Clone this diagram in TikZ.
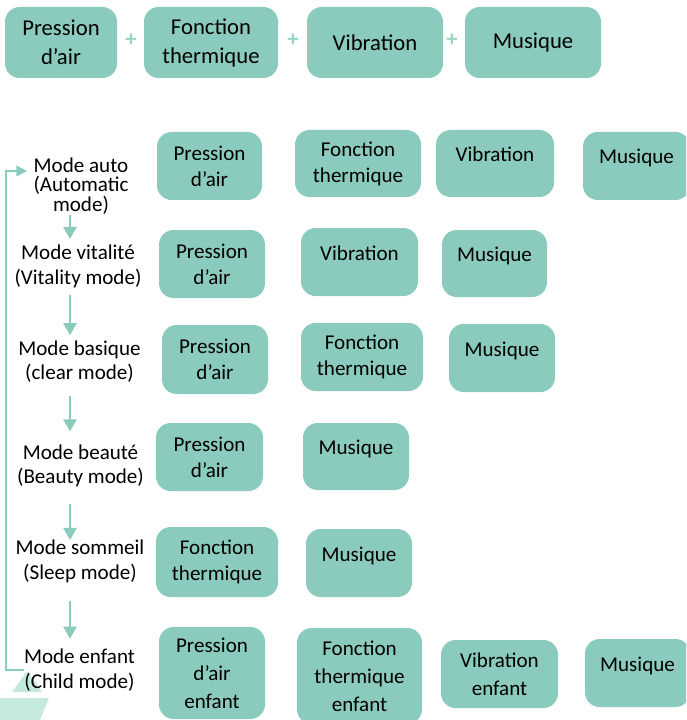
\documentclass[tikz,border=0pt]{standalone}
\usepackage{fontspec}
\setmainfont{Carlito}
\usetikzlibrary{arrows.meta}
\definecolor{teal1}{RGB}{138,203,189}
\definecolor{teal2}{RGB}{150,212,198}
\definecolor{paleteal}{RGB}{196,234,224}
\begin{document}
\begin{tikzpicture}[x=0.75pt,y=-0.75pt,
  box/.style={fill=teal1, rounded corners=11pt, inner sep=0pt, align=center, font=\fontsize{15.8}{19.5}\selectfont},
  bx/.style n args={4}{box, minimum width={(#3-#1)*0.75pt}, minimum height={(#4-#2)*0.75pt}, at={({(#1+#3)/2},{(#2+#4)/2})}},
  hi/.style={text height=11pt, text depth=14pt},
  big/.style={font=\fontsize{17}{21.75}\selectfont},
  mode/.style={align=center, inner sep=0pt, font=\fontsize{15.8}{18.5}\selectfont},
  plus/.style={text=teal2, font=\fontsize{17}{20}\selectfont\bfseries, inner sep=0pt},
  arr/.style={draw=teal1, line width=1.1pt, -{Triangle[width=10pt,length=9pt]}},
  fbk/.style={draw=teal1, line width=1.1pt, -{Triangle[width=8pt,length=8pt]}},
]
\useasboundingbox (0,0) rectangle (686,720);
\clip (0,0) rectangle (686,720);

% top row
\node[bx={5}{7}{117}{78}, big] (t1) {Pression\\d’air};
\node[bx={144}{7}{278}{78}, big] (t2) {Fonction\\thermique};
\node[bx={307}{7}{443}{78}, big] (t3) {Vibration};
\node[bx={465}{7}{601}{78}, big] (t4) {Musique};
\node[plus] (p1) at (131,40) {+};
\node[plus] (p2) at (293,40) {+};
\node[plus] (p3) at (452,40) {+};

% decoration bottom left
\fill[paleteal] (12,692) -- (27,671) -- (42,692) -- cycle;
\fill[paleteal] (0,698) -- (49,698) -- (40,720) -- (0,720) -- cycle;

% mode labels
\node[mode] (m1) at (81,186) {Mode auto\\[-4pt](Automatic\\[-4pt]mode)};
\node[mode] (m2) at (78,266.5) {Mode vitalité\\(Vitality mode)};
\node[mode] (m3) at (79.5,361.5) {Mode basique\\(clear mode)};
\node[mode] (m4) at (80.5,466) {Mode beauté\\(Beauty mode)};
\node[mode] (m5) at (80,561.5) {Mode sommeil\\(Sleep mode)};
\node[mode] (m6) at (79.5,670) {Mode enfant\\(Child mode)};

% arrows between modes
\coordinate (ax) at (70,0);
\draw[arr, shorten <=0.75pt, shorten >=4.5pt] (m1.south -| ax) -- (m2.north -| ax);
\draw[arr, shorten <=5.25pt, shorten >=3.75pt] (m2.south -| ax) -- (m3.north -| ax);
\draw[arr, shorten <=9.75pt, shorten >=9.75pt] (m3.south -| ax) -- (m4.north -| ax);
\draw[arr, shorten <=12pt, shorten >=0pt] (m4.south -| ax) -- (m5.north -| ax);
\draw[arr, shorten <=13.5pt, shorten >=7.5pt] (m5.south -| ax) -- (m6.north -| ax);

% feedback loop
\coordinate (fa) at (27,171);
\draw[fbk] (m6.west) -- ++(-18,0) |- (fa);

% row auto
\node[bx={157}{132}{262}{200}] (a1) {Pression\\d’air};
\node[bx={295}{130}{421}{197}] (a2) {Fonction\\thermique};
\node[bx={436}{130}{554}{197}, hi] (a3) {Vibration};
\node[bx={583}{132}{690}{200}, hi] (a4) {Musique};

% row vitality
\node[bx={159}{230}{265}{298}] (v1) {Pression\\d’air};
\node[bx={301}{228}{418}{296}, hi] (v2) {Vibration};
\node[bx={442}{230}{547}{297}, hi] (v3) {Musique};

% row basique
\node[bx={162}{325}{268}{394}] (b1) {Pression\\d’air};
\node[bx={301}{323}{423}{391}] (b2) {Fonction\\thermique};
\node[bx={449}{324}{555}{392}, hi] (b3) {Musique};

% row beaute
\node[bx={156}{423}{263}{491}] (e1) {Pression\\d’air};
\node[bx={303}{423}{409}{490}, hi] (e2) {Musique};

% row sommeil
\node[bx={156}{527}{278}{597}] (s1) {Fonction\\thermique};
\node[bx={306}{529}{412}{597}, hi] (s2) {Musique};

% row enfant
\node[bx={159}{627}{265}{719}] (c1) {Pression\\[1.5pt]d’air\\[1.5pt]enfant};
\node[bx={297}{628}{422}{724}] (c2) {Fonction\\[1.5pt]thermique\\[1.5pt]enfant};
\node[bx={441}{640}{558}{708}] (c3) {Vibration\\[1.5pt]enfant};
\node[bx={585}{639}{690}{707}, hi] (c4) {Musique};
\end{tikzpicture}
\end{document}
